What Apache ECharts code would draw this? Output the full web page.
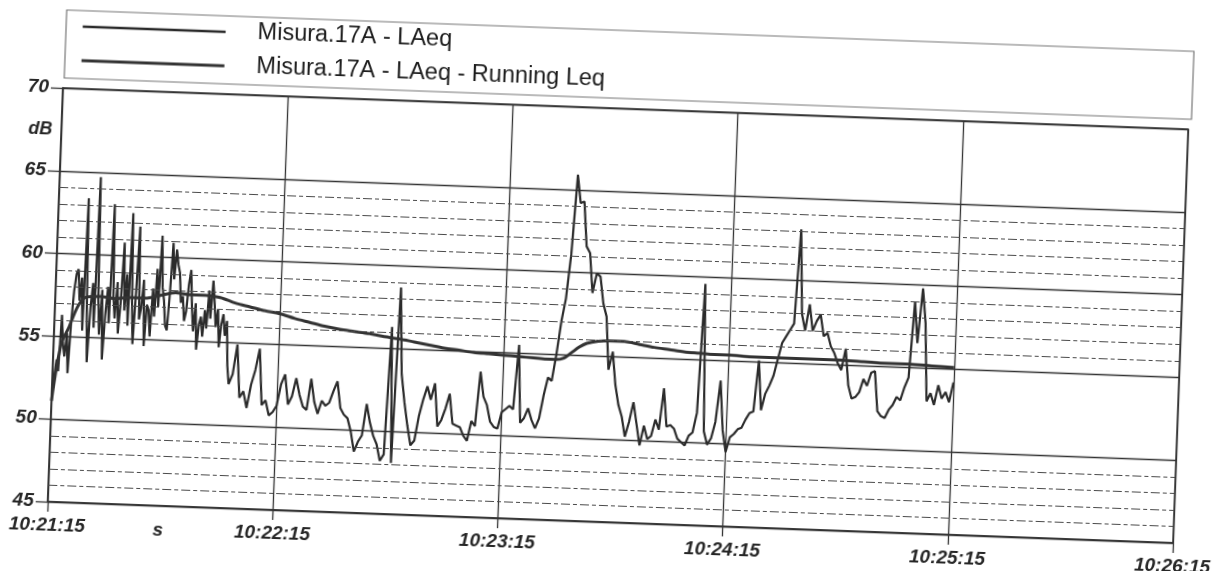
<!DOCTYPE html>
<html>
<head>
<meta charset="utf-8">
<script src="https://cdn.jsdelivr.net/npm/echarts@6/dist/echarts.min.js"></script>
<style>
html,body{margin:0;padding:0;background:#fff;overflow:hidden;width:1213px;height:571px;}
/* the printed sheet sits slightly skewed on the page */
#sheet{position:absolute;left:-50px;top:-40px;width:1313px;height:651px;transform:rotate(2.1deg);transform-origin:50% 50%;}
</style>
</head>
<body>
<div id="sheet"></div>
<script>
// x axis: seconds after 10:21:15, one label per minute
const timeLabels = ['10:21:15', '10:22:15', '10:23:15', '10:24:15', '10:25:15', '10:26:15'];
// dotted 1 dB reference lines
const minorGridDb = [46, 47, 48, 49, 56, 57, 58, 59, 61, 62, 63, 64];

// LAeq during the opening burst: half-second values from 10:21:15
const laeqBurstStepSec = 0.5;
const laeqBurstDb = [
  51.1, 52.6, 53.6, 52.9, 56.3, 54.6, 53.8, 55.2, 52.8, 55.9,
  57.8, 58.8, 59.1, 57.2, 58.6, 55.4, 63.4, 57.0, 53.5, 56.8,
  58.3, 55.6, 64.7, 57.4, 55.2, 57.9, 53.7, 56.4, 58.1, 55.9,
  63.1, 57.6, 56.2, 58.4, 55.3, 57.2, 60.8, 56.7, 58.9, 55.8,
  62.6, 57.3, 54.7, 57.9, 61.8, 56.2, 56.9, 58.6, 54.6, 57.1,
  56.8, 55.2, 58.1, 56.4, 59.3, 57.0, 61.3, 58.2, 57.4, 55.9,
  55.6, 57.8, 60.9, 58.7, 60.5, 59.6, 59.1, 57.3, 57.7, 56.2,
  56.8, 58.4, 59.3, 57.1, 55.6, 57.3, 54.5, 56.0, 56.5, 55.3,
  56.9, 55.8, 58.1, 56.4, 58.7, 57.4, 55.9, 57.0, 54.7, 56.1,
  56.7, 55.4, 56.3, 53.6
];

// LAeq after the burst: one value per second from 10:22:02 (47 s)
const laeqStartSec = 47;
const laeqStepSec = 1;
const laeqDb = [
                                    52.5, 53.1, 54.9,
  51.7, 52.1, 51.1, 52.5, 53.4, 54.7, 51.3, 51.6, 50.7, 50.9,
  51.3, 52.6, 53.2, 51.4, 51.9, 53.0, 52.0, 51.3, 51.1, 53.0,
  51.6, 50.9, 51.7, 51.4, 51.6, 52.3, 52.9, 51.3, 50.9, 50.7,
  49.9, 48.7, 49.3, 49.7, 51.6, 50.5, 49.7, 49.2, 48.2, 48.6,
  56.3, 48.1, 58.7, 53.5, 51.8, 50.4, 49.2, 49.5, 51.0, 52.0,
  52.8, 52.0, 53.0, 50.4, 50.8, 51.5, 52.4, 50.6, 50.5, 50.4,
  49.9, 49.6, 50.8, 50.5, 53.8, 52.3, 51.8, 50.8, 50.5, 50.4,
  51.4, 51.6, 51.8, 51.6, 55.5, 50.8, 51.1, 51.7, 51.0, 50.5,
  51.1, 52.5, 53.6, 53.4, 55.0, 57.0, 58.4, 61.1, 65.9, 64.2,
  64.3, 61.6, 61.2, 58.8, 60.0, 59.8, 58.2, 57.4, 54.2, 55.3,
  53.3, 52.1, 51.4, 50.2, 51.1, 52.3, 51.0, 49.7, 50.9, 50.1,
  50.3, 51.3, 50.7, 53.2, 50.9, 51.0, 50.8, 50.2, 50.0, 49.8,
  50.4, 50.6, 51.8, 59.6, 50.7, 49.9, 50.3, 51.3, 53.8, 50.8,
  49.5, 50.4, 50.6, 50.9, 51.0, 51.5, 51.9, 52.0, 55.1, 52.1,
  53.1, 53.6, 54.2, 55.2, 56.2, 56.6, 57.0, 57.4, 63.1, 58.0,
  57.0, 58.6, 57.0, 57.6, 58.0, 56.7, 56.9, 56.1, 55.7, 55.1,
  54.7, 56.0, 53.8, 53.0, 53.1, 53.4, 54.2, 53.8, 54.6, 54.7,
  52.3, 52.0, 51.9, 52.4, 52.7, 53.2, 53.0, 53.8, 54.4, 59.0,
  56.5, 59.8, 57.7, 53.0, 53.5, 52.8, 54.0, 53.2, 53.6, 53.0,
  54.2
];

// Running Leq
const runningSec = [0, 2, 4, 6, 8, 12, 16, 20, 24, 28, 32, 36, 40, 44, 48, 52, 56, 60, 64, 68,
  72, 76, 80, 84, 88, 92, 96, 100, 104, 108, 112, 116, 120, 124, 128, 132, 134, 136, 138, 140,
  142, 145, 148, 152, 156, 160, 164, 168, 172, 176, 180, 186, 192, 198, 204, 210, 216, 222, 228, 234, 240];
const runningDb = [51.1, 54.5, 55.6, 56.8, 57.4, 57.5, 57.4, 57.5, 57.5, 57.7, 57.9, 57.8, 57.8, 57.7, 57.4, 57.2, 57.0, 56.85, 56.6, 56.4,
  56.2, 56.05, 55.95, 55.85, 55.7, 55.6, 55.45, 55.3, 55.15, 55.05, 54.95, 54.9, 54.85, 54.8, 54.75, 54.7, 54.7, 54.8, 55.15, 55.5,
  55.75, 55.9, 55.95, 55.95, 55.8, 55.65, 55.55, 55.45, 55.4, 55.35, 55.35, 55.3, 55.3, 55.3, 55.3, 55.3, 55.25, 55.2, 55.2, 55.15, 55.1];

const FONT = '"Liberation Sans", Arial, sans-serif';
const INK = '#262626';

const laeqPoints = laeqBurstDb.map((v, i) => [i * laeqBurstStepSec, v])
  .concat(laeqDb.map((v, i) => [laeqStartSec + i * laeqStepSec, v]));

const chart = echarts.init(document.getElementById('sheet'), null, {renderer: 'canvas'});

const gridBox = {left: 106, top: 148, width: 1126, height: 414};

chart.setOption({
  animation: false,
  backgroundColor: '#fff',
  grid: {left: gridBox.left, top: gridBox.top, width: gridBox.width, height: gridBox.height,
    show: true, borderColor: '#333', borderWidth: 1.5, backgroundColor: 'transparent'},
  legend: {
    orient: 'vertical', left: 122, top: 73, padding: 0,
    itemWidth: 143, itemHeight: 14, itemGap: 8,
    data: [
      {name: 'Misura.17A - LAeq', lineStyle: {width: 2.6, color: '#2b2b2b'}},
      {name: 'Misura.17A - LAeq - Running Leq', lineStyle: {width: 3.2, color: '#333'}}
    ],
    itemStyle: {opacity: 0},
    textStyle: {fontSize: 23.5, lineHeight: 26, color: '#1c1c1c', fontFamily: FONT, padding: [0, 0, 0, 27]},
    selectedMode: false
  },
  graphic: [
    {type: 'rect', silent: true, shape: {x: gridBox.left + 1, y: 70, width: gridBox.width + 2, height: 68},
      style: {fill: 'none', stroke: '#777', lineWidth: 1.2}},
    {type: 'text', silent: true, x: 85, y: 190,
      style: {text: 'dB', font: 'italic bold 18px ' + FONT, fill: INK, align: 'center', verticalAlign: 'middle'}},
    {type: 'text', silent: true, x: 217, y: 587,
      style: {text: 's', font: 'italic bold 19px ' + FONT, fill: INK, align: 'center', verticalAlign: 'middle'}}
  ],
  xAxis: {
    type: 'value', min: 0, max: 300, interval: 60,
    axisLine: {show: true, lineStyle: {color: '#333', width: 1.5}},
    axisTick: {show: true, length: 10, lineStyle: {color: '#333', width: 1.3}},
    axisLabel: {margin: 14, showMinLabel: true, showMaxLabel: true,
      formatter: v => timeLabels[Math.round(v / 60)],
      fontSize: 19, fontStyle: 'italic', fontWeight: 'bold', color: INK, fontFamily: FONT},
    splitLine: {show: true, lineStyle: {color: '#333', width: 1.3}}
  },
  yAxis: {
    type: 'value', min: 45, max: 70, interval: 5,
    axisLine: {show: true, lineStyle: {color: '#333', width: 1.5}},
    axisTick: {show: true, length: 12, lineStyle: {color: '#333', width: 1.3}},
    axisLabel: {margin: 14, fontSize: 19, fontStyle: 'italic', fontWeight: 'bold', color: INK, fontFamily: FONT},
    splitLine: {show: true, lineStyle: {color: '#333', width: 1.3}}
  },
  series: [
    {
      name: 'minor grid', type: 'line', data: [], silent: true, z: 1,
      markLine: {
        silent: true, symbol: 'none', animation: false,
        label: {show: false},
        lineStyle: {type: [9, 3, 4, 3], color: '#4a4a4a', width: 1},
        data: minorGridDb.map(v => ({yAxis: v}))
      }
    },
    {
      name: 'Misura.17A - LAeq', type: 'line', z: 3,
      data: laeqPoints,
      symbol: 'none', showSymbol: false,
      lineStyle: {color: '#2b2b2b', width: 2.2},
      itemStyle: {color: '#2b2b2b'}
    },
    {
      name: 'Misura.17A - LAeq - Running Leq', type: 'line', z: 4,
      data: runningSec.map((s, i) => [s, runningDb[i]]),
      symbol: 'none', showSymbol: false, smooth: 0.3,
      lineStyle: {color: '#333', width: 3},
      itemStyle: {color: '#333'}
    }
  ]
});
</script>
</body>
</html>
